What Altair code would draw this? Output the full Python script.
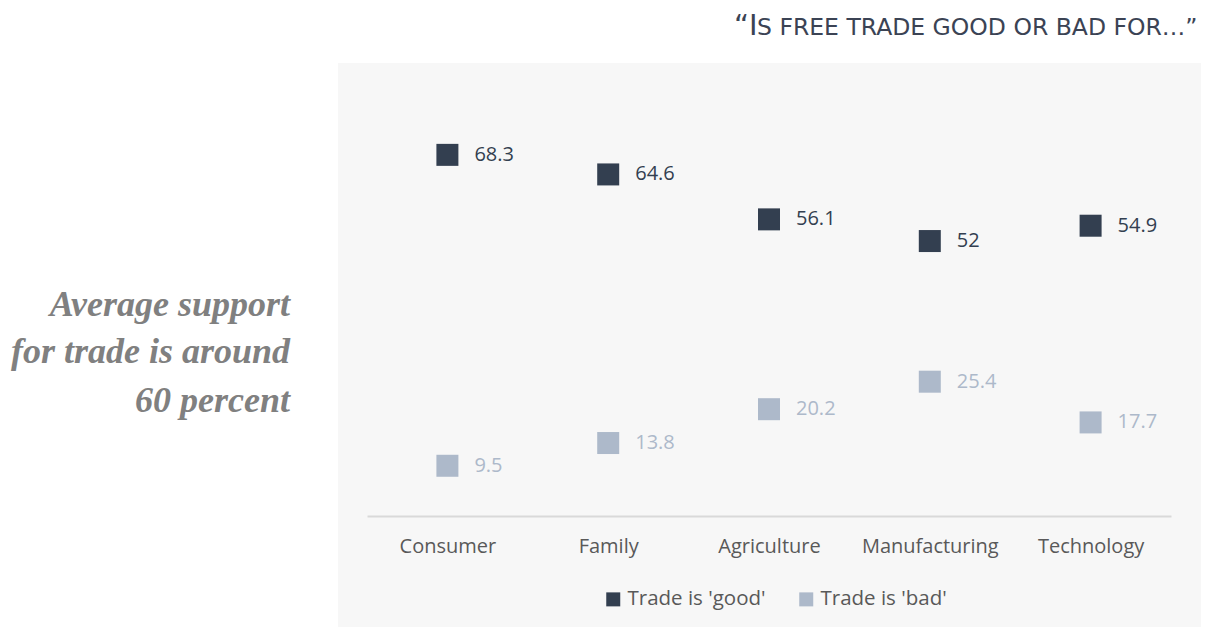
import altair as alt
import pandas as pd

categories = ["Consumer", "Family", "Agriculture", "Manufacturing", "Technology"]
good_values = [68.3, 64.6, 56.1, 52, 54.9]
bad_values = [9.5, 13.8, 20.2, 25.4, 17.7]
series_names = ["Trade is 'good'", "Trade is 'bad'"]
title_big = "“I"
title_small = "S FREE TRADE GOOD OR BAD FOR…”"
side_lines = ["Average support", "for trade is around", "60 percent"]

rows = []
for c, g, b in zip(categories, good_values, bad_values):
    rows.append({"category": c, "value": g, "series": series_names[0], "label": f"{g:g}"})
    rows.append({"category": c, "value": b, "series": series_names[1], "label": f"{b:g}"})
df = pd.DataFrame(rows)

DARK = "#333f50"
LIGHT = "#adb9ca"
FONT = "Open Sans"

x_enc = alt.X("category:N", sort=categories,
              scale=alt.Scale(paddingInner=0, paddingOuter=0),
              axis=alt.Axis(title=None, labelAngle=0, ticks=False, labelFont=FONT,
                            labelFontSize=20, labelColor="#595959", labelPadding=20,
                            domainColor="#d9d9d9", domainWidth=2, grid=False, zindex=1))
y_enc = alt.Y("value:Q", scale=alt.Scale(domain=[0, 80], nice=False, zero=True), axis=None)

base = alt.Chart(df)

bg = alt.Chart(pd.DataFrame({"k": [0]})).mark_rect(color="#f7f7f7").encode(
    x=alt.value(-29), x2=alt.value(834), y=alt.value(-30), y2=alt.value(545))

points = base.mark_square(size=484, opacity=1).encode(
    x=x_enc, y=y_enc,
    color=alt.Color("series:N", sort=series_names,
                    scale=alt.Scale(domain=series_names, range=[DARK, LIGHT]),
                    legend=alt.Legend(title=None, orient="none", legendX=236, legendY=496,
                                      direction="horizontal", columns=2, symbolType="square",
                                      symbolSize=196, symbolStrokeWidth=0, labelFont=FONT,
                                      labelFontSize=20.5, labelColor="#595959", labelOffset=4,
                                      columnPadding=30, zindex=1)))

labels = base.mark_text(align="left", baseline="middle", dx=27, font=FONT, fontSize=20).encode(
    x=x_enc, y=y_enc, text="label:N",
    color=alt.Color("series:N", scale=alt.Scale(domain=series_names, range=[DARK, LIGHT]), legend=None))

t1 = alt.Chart(pd.DataFrame({"t": [title_big]})).mark_text(
    align="left", baseline="alphabetic", font="DejaVu Sans", fontSize=29, color="#3b4354").encode(
    x=alt.value(367), y=alt.value(-58), text="t:N")
t2 = alt.Chart(pd.DataFrame({"t": [title_small]})).mark_text(
    align="left", baseline="alphabetic", font="DejaVu Sans", fontSize=23.5, color="#3b4354").encode(
    x=alt.value(390), y=alt.value(-58), text="t:N")

side = alt.Chart(pd.DataFrame({"t": side_lines, "y": [223, 270, 319]})).mark_text(
    align="right", baseline="alphabetic", font="Liberation Serif", fontSize=36,
    fontStyle="italic", fontWeight="bold", color="#808080").encode(
    x=alt.value(-77), y=alt.Y("y:Q", scale=None), text="t:N")

chart = alt.layer(bg, points, labels, t1, t2, side).resolve_scale(color="independent").properties(
    width=804, height=423,
    autosize=alt.AutoSizeParams(type="none"),
    padding={"left": 359, "top": 85, "right": 30, "bottom": 111},
).configure_view(stroke=None)

chart.save("out.html", embed_options={"renderer": "svg", "actions": False})
